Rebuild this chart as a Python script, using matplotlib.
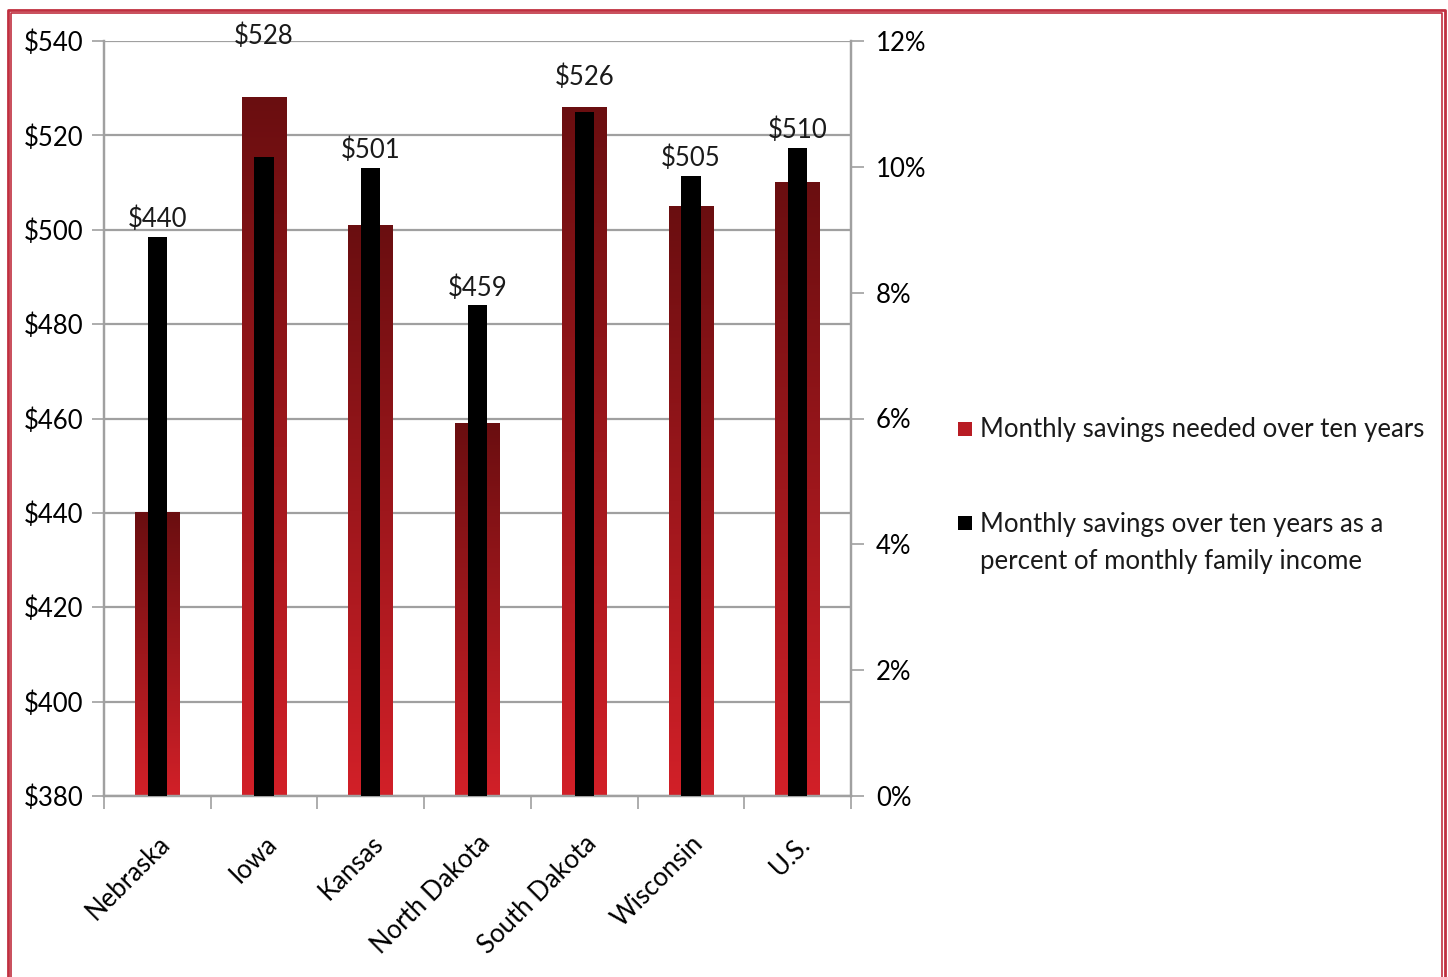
import numpy as np
import matplotlib
matplotlib.use("Agg")
import matplotlib.pyplot as plt
from matplotlib.patches import Rectangle
from matplotlib.lines import Line2D
from matplotlib.colors import LinearSegmentedColormap

plt.rcParams["font.family"] = ["Lato", "DejaVu Sans"]

# ---------------------------------------------------------------
# data
# ---------------------------------------------------------------
states = ["Nebraska", "Iowa", "Kansas", "North Dakota", "South Dakota", "Wisconsin", "U.S."]
savings = [440, 528, 501, 459, 526, 505, 510]            # $ per month
pct_income = [8.89, 10.16, 9.98, 7.80, 10.87, 9.86, 10.30]  # % of monthly income

label_red = "Monthly savings needed over ten years"
label_blk = "Monthly savings over ten years as a\npercent of monthly family income"

YMIN, YMAX = 380, 540
PMAX = 12
FS = 18.5

grid_c = "#a0a0a0"
red_cmap = LinearSegmentedColormap.from_list("redgrad", ["#d22028", "#6a0e10"])

W, H = 1448, 977
fig = plt.figure(figsize=(W / 100, H / 100), dpi=100)
ax = fig.add_axes([104 / W, 1 - 796 / H, (851 - 104) / W, (796 - 41) / H])
ax2 = ax.twinx()

x = np.arange(len(states))
w_red, w_blk = 0.42, 0.18

# red bars with vertical gradient
grad = np.linspace(0, 1, 256).reshape(-1, 1)
for xi, v in zip(x, savings):
    ax.imshow(grad, cmap=red_cmap, origin="lower", aspect="auto",
              extent=[xi - w_red / 2, xi + w_red / 2, YMIN, v], zorder=2)
ax.set_xlim(-0.5, len(states) - 0.5)
ax.set_ylim(YMIN, YMAX)

# black bars on secondary axis
ax2.bar(x, pct_income, w_blk, color="black", zorder=3)
ax2.set_ylim(0, PMAX)

# data labels (a couple sit higher in the original)
label_override = {"Iowa": YMAX - 1.8, "South Dakota": 529.6}
for i, (v, p) in enumerate(zip(savings, pct_income)):
    top = max(v, YMIN + p / PMAX * (YMAX - YMIN))
    y_lab = label_override.get(states[i], top + 1.0)
    ax2.text(x[i], y_lab, f"${v}", transform=ax.transData, ha="center", va="bottom",
             fontsize=FS, color="#1a1a1a")

# left axis
ax.set_yticks(np.arange(YMIN, YMAX + 1, 20))
ax.set_yticklabels([f"${t}" for t in range(YMIN, YMAX + 1, 20)], fontsize=FS)
ax.yaxis.grid(True, color=grid_c, lw=1.6)
ax.set_axisbelow(True)
ax.tick_params(axis="y", length=9, width=1.2, color=grid_c, pad=6)

# x axis: labels at centers, ticks at category boundaries
ax.set_xticks(x)
ax.set_xticklabels(states, rotation=45, ha="right", rotation_mode="anchor", fontsize=FS)
ax.tick_params(axis="x", which="major", length=0, pad=25)
ax.set_xticks(np.arange(-0.5, len(states)), minor=True)
ax.tick_params(axis="x", which="minor", length=9, width=1.2, color=grid_c)

# right axis
ax2.set_yticks(np.arange(0, PMAX + 1, 2))
ax2.set_yticklabels([f"{t}%" for t in range(0, PMAX + 1, 2)], fontsize=FS)
ax2.tick_params(axis="y", length=9, width=1.2, color=grid_c, pad=9)

for a in (ax, ax2):
    a.spines["top"].set_visible(False)
    for s in ("left", "right", "bottom"):
        a.spines[s].set_color(grid_c)
        a.spines[s].set_linewidth(1.6)

# legend, laid out by hand so the marker sits on the first text line
def fx(px):
    return px / W

def fy(py):
    return 1 - py / H

for col, ycen in [("#b81c24", 429), ("black", 523)]:
    fig.add_artist(Rectangle((fx(958), fy(ycen + 7)), 14 / W, 14 / H,
                             transform=fig.transFigure, facecolor=col, edgecolor="none"))
fig.text(fx(980), fy(429), label_red, fontsize=FS, va="center", ha="left", color="#1a1a1a")
fig.text(fx(980), fy(512), label_blk, fontsize=FS, va="top", ha="left", color="#1a1a1a",
         linespacing=1.6)

# red double border around the slide
for off, lw in [(0, 2.0), (3, 1.2)]:
    xs = [fx(8 + off), fx(8 + off), fx(1445 - off), fx(1445 - off)]
    ys = [0, fy(10 + off), fy(10 + off), 0]
    fig.add_artist(Line2D(xs, ys, transform=fig.transFigure, color="#c03040", lw=lw))

fig.savefig("out.png", dpi=100)
